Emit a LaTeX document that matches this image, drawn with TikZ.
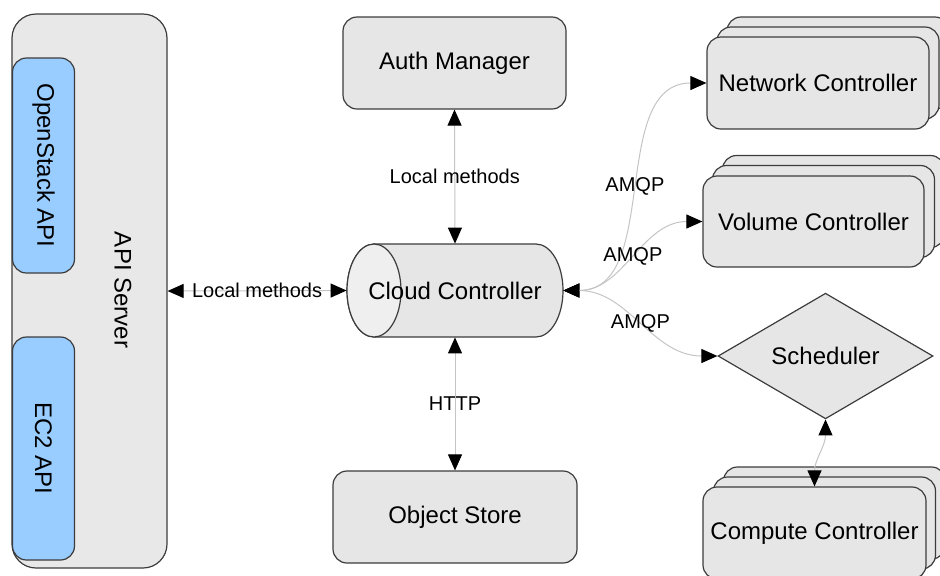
\documentclass[tikz,border=0pt]{standalone}
\usepackage{fontspec}
\setmainfont{Liberation Sans}
\usepackage{xcolor}
\usepackage{tikz}
\usetikzlibrary{arrows.meta,positioning,calc,shapes.geometric}

\definecolor{boxfill}{HTML}{E6E6E6}
\definecolor{endfill}{HTML}{EFEFEF}
\definecolor{apifill}{HTML}{99CCFF}
\definecolor{edge}{HTML}{3C3C3C}
\definecolor{wire}{HTML}{C4C4C4}

\tikzset{amtip/.tip={Triangle[color=black,length=8pt,width=7pt]}}

\begin{document}
\begin{tikzpicture}[x=0.5pt,y=-0.5pt,
box/.style={rectangle, rounded corners=7pt, fill=boxfill, draw=edge, line width=0.6pt, inner sep=0pt, font=\fontsize{12}{14}\selectfont},
layer/.style={fill=boxfill, draw=edge, line width=0.6pt, rounded corners=7pt},
cylpart/.style={draw=edge, line width=0.6pt},
apibox/.style={rectangle, rounded corners=7pt, fill=apifill, draw=edge, line width=0.6pt, inner sep=0pt, rotate=-90, minimum height=31pt, font=\fontsize{12}{14}\selectfont},
conn/.style={draw=wire, line width=0.5pt, amtip-amtip},
lbl/.style={inner sep=1pt, font=\fontsize{10}{12}\selectfont}
]
\useasboundingbox (0,0) rectangle (940,575);
% back sheets of a stacked box, centre (x:y)
\def\stk(#1:#2){
\filldraw[layer] (#1-111+20,#2-46-20) rectangle (#1+111+20,#2+46-20);
\filldraw[layer] (#1-111+10,#2-46-10) rectangle (#1+111+10,#2+46-10);
}
% Create the API server
\node[box, rounded corners=12pt, fill=boxfill!90!white, minimum width=77.5pt, minimum height=277pt] (api) at (89.5,291) {};
\node[rotate=-90, font=\fontsize{12}{14}\selectfont] (apitxt) at (123,290) {API Server};
\node[apibox, minimum width=107.5pt] (osapi) at (43.5,165.5) {OpenStack API};
\node[apibox, minimum width=111.5pt] (ecapi) at (43.5,448.5) {EC2 API};
% Create the middle column
\node[box, minimum width=111.5pt, minimum height=46pt] (auth) at (454.5,63) {Auth Manager};
\filldraw[cylpart, fill=boxfill] (374,244) -- (536,244)
  arc[start angle=90, end angle=-90, x radius=13.5pt, y radius=23.25pt] -- (374,337)
  arc[start angle=270, end angle=90, x radius=13.5pt, y radius=23.25pt] -- cycle;
\filldraw[cylpart, fill=endfill] (374,290.5) ellipse[x radius=13.5pt, y radius=23.25pt];
\node[inner sep=0pt, minimum width=108pt, minimum height=46.5pt, font=\fontsize{12}{14}\selectfont] (cyl) at (455,290.5) {Cloud Controller};
\node[box, minimum width=122pt, minimum height=46pt] (store) at (455,517) {Object Store};
% Create the workers
\stk(818:83);
\node[box, minimum width=111pt, minimum height=46pt] (net) at (818,83) {Network Controller};
\stk(813.5:221.5);
\node[box, minimum width=110.5pt, minimum height=45.5pt] (vol) at (813.5,221.5) {Volume Controller};
\node[box, rounded corners=0pt, diamond, minimum width=107.5pt, minimum height=61pt] (sched) at (825.5,356) {Scheduler};
\stk(814.5:533);
\node[box, minimum width=111.5pt, minimum height=46pt] (comp) at (814.5,533) {Compute Controller};
% Create the connections
\draw[conn] (api.east) -- (cyl.west) node[lbl, midway] (lm1) {Local methods};
\draw[conn] (auth.south) -- (cyl.north) node[lbl, midway] (lm2) {Local methods};
\draw[conn] (cyl.south) -- (store.north) node[lbl, midway] (http) {HTTP};
\draw[conn] (cyl.east) to[out=0,in=180] node[lbl] (q1) {AMQP} (net.west);
\draw[conn] (cyl.east) to[out=0,in=180] node[lbl] (q2) {AMQP} (vol.west);
\draw[conn] (cyl.east) to[out=0,in=180] node[lbl] (q3) {AMQP} (sched.west);
\draw[conn] (sched.south) to[out=-90,in=90] (comp.north);
\end{tikzpicture}
\end{document}
